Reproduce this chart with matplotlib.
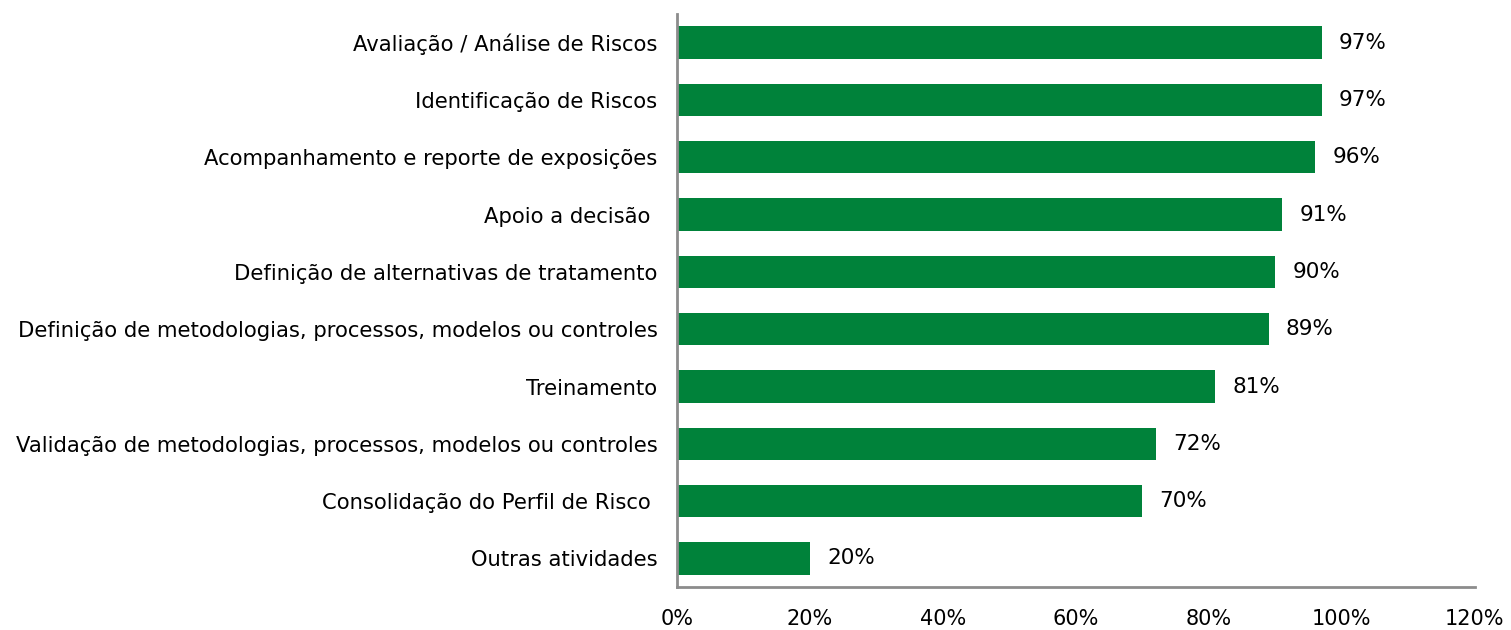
import matplotlib.pyplot as plt

# dados do grafico (de cima para baixo)
atividades = [
    'Avaliação / Análise de Riscos',
    'Identificação de Riscos',
    'Acompanhamento e reporte de exposições',
    'Apoio a decisão ',
    'Definição de alternativas de tratamento',
    'Definição de metodologias, processos, modelos ou controles',
    'Treinamento',
    'Validação de metodologias, processos, modelos ou controles',
    'Consolidação do Perfil de Risco ',
    'Outras atividades',
]
percentuais = [97, 97, 96, 91, 90, 89, 81, 72, 70, 20]
ticks_x = [0, 20, 40, 60, 80, 100, 120]

plt.rcParams['font.family'] = ['DejaVu Sans']

verde = '#00823A'
cinza = '#8C8C8C'

fig = plt.figure(figsize=(15.11, 6.3), dpi=100)
ax = fig.add_axes([0.448, 0.068, 0.528, 0.91])

pos = list(range(len(atividades)))
ax.barh(pos, percentuais, height=0.56, color=verde)

for p, v in zip(pos, percentuais):
    ax.text(v + 2.6, p, '{}%'.format(v), va='center', ha='left', fontsize=15.5, color='black')

ax.set_yticks(pos)
ax.set_yticklabels(atividades, fontsize=15.2)
ax.set_ylim(len(atividades) - 0.5, -0.5)
ax.set_xlim(0, 120)
ax.set_xticks(ticks_x)
ax.set_xticklabels(['{}%'.format(t) for t in ticks_x], fontsize=15)

ax.tick_params(axis='y', length=0, pad=14)
ax.tick_params(axis='x', length=0, pad=16)

for lado in ['top', 'right']:
    ax.spines[lado].set_visible(False)
for lado in ['left', 'bottom']:
    ax.spines[lado].set_color(cinza)
    ax.spines[lado].set_linewidth(2)

plt.savefig('out.png', dpi=100)
